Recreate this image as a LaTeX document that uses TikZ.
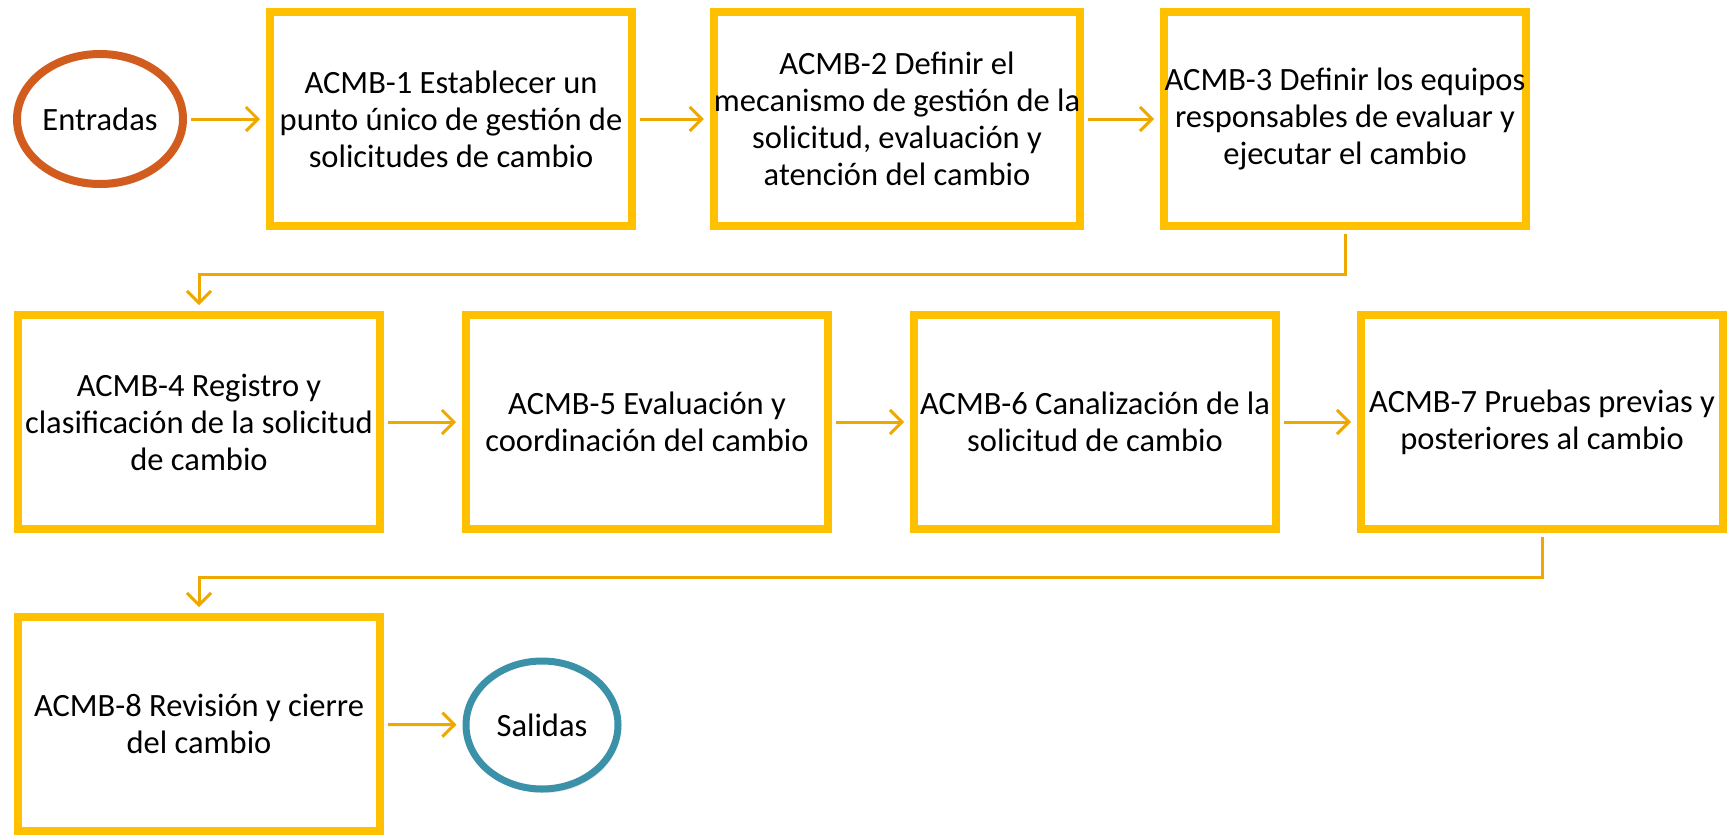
\documentclass[tikz,border=0pt]{standalone}
\usepackage{fontspec}
\setmainfont{Carlito}
\usetikzlibrary{arrows.meta, shapes.geometric, shadows}

\definecolor{boxgold}{RGB}{255,192,0}
\definecolor{linkgold}{RGB}{238,168,0}
\definecolor{inrust}{RGB}{209,92,30}
\definecolor{outteal}{RGB}{58,145,168}

\tikzset{
	actbox/.style={draw=boxgold, line width=8pt, fill=white, minimum width=362pt,
		minimum height=214pt, inner sep=0pt, align=center,
		drop shadow={shadow xshift=2pt, shadow yshift=-4pt, opacity=0.2}},
	endcircle/.style={ellipse, fill=white, inner sep=0pt,
		drop shadow={shadow xshift=2pt, shadow yshift=-4pt, opacity=0.2}},
	link/.style={draw=linkgold, line width=3pt, -{Straight Barb[length=12pt, width=24pt]},
		shorten >=6pt, shorten <=4pt}
}

\begin{document}
\begin{tikzpicture}[x=1pt, y=-1pt, every node/.style={font=\fontsize{32.5}{37}\selectfont}]
			\useasboundingbox (0, 0) rectangle (1733, 836);
			% Entradas
			\node[endcircle, draw=inrust, line width=8pt, minimum width=166pt, minimum height=130pt]
				(in) at (100, 119) {Entradas};
			% First row
			\node[actbox] (b1) at (451, 119) {ACMB-1 Establecer un\\punto único de gestión de\\solicitudes de cambio};
			\node[actbox] (b2) at (897, 119) {ACMB-2 Definir el\\mecanismo de gestión de la\\solicitud, evaluación y\\atención del cambio};
			\node[actbox] (b3) at (1345, 119) {ACMB-3 Definir los equipos\\responsables de evaluar y\\ejecutar el cambio};
			% Second row
			\node[actbox] (b4) at (199, 422) {ACMB-4 Registro y\\clasificación de la solicitud\\de cambio};
			\node[actbox] (b5) at (647, 422) {ACMB-5 Evaluación y\\coordinación del cambio};
			\node[actbox] (b6) at (1095, 422) {ACMB-6 Canalización de la\\solicitud de cambio};
			\node[actbox] (b7) at (1542, 422) {ACMB-7 Pruebas previas y\\posteriores al cambio};
			% Third row
			\node[actbox] (b8) at (199, 724) {ACMB-8 Revisión y cierre\\del cambio};
			% Salidas
			\node[endcircle, draw=outteal, line width=7pt, minimum width=152pt, minimum height=128pt]
				(out) at (542, 725) {Salidas};
			% Flow
			\draw[link] (in) -- (b1);
			\draw[link] (b1) -- (b2);
			\draw[link] (b2) -- (b3);
			\draw[link] (b3.south) -- ++(0, 44) -| (b4.north);
			\draw[link] (b4) -- (b5);
			\draw[link] (b5) -- (b6);
			\draw[link] (b6) -- (b7);
			\draw[link] (b7.south) -- ++(0, 44) -| (b8.north);
			\draw[link] (b8) -- (out);
		\end{tikzpicture}
\end{document}
